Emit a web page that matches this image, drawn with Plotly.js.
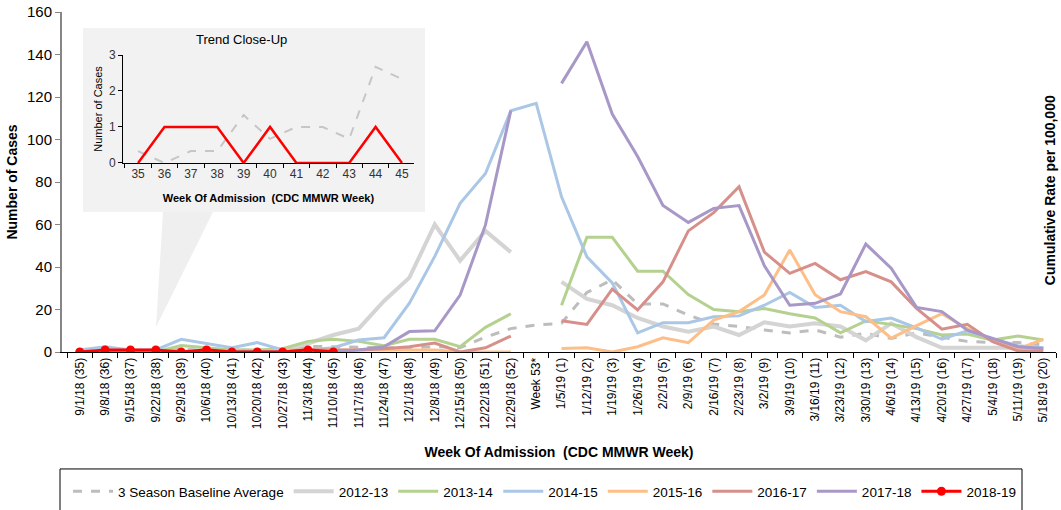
<!DOCTYPE html>
<html><head><meta charset="utf-8">
<script src="https://cdn.plot.ly/plotly-3.0.1.min.js"></script>
<style>html,body{margin:0;padding:0;background:#fff;} #chart{width:1061px;height:510px;}</style>
</head><body><div id="chart"></div>
<script>
const weeks = ["9/1/18 (35)","9/8/18 (36)","9/15/18 (37)","9/22/18 (38)","9/29/18 (39)","10/6/18 (40)","10/13/18 (41)","10/20/18 (42)","10/27/18 (43)","11/3/18 (44)","11/10/18 (45)","11/17/18 (46)","11/24/18 (47)","12/1/18 (48)","12/8/18 (49)","12/15/18 (50)","12/22/18 (51)","12/29/18 (52)","Week 53*","1/5/19 (1)","1/12/19 (2)","1/19/19 (3)","1/26/19 (4)","2/2/19 (5)","2/9/19 (6)","2/16/19 (7)","2/23/19 (8)","3/2/19 (9)","3/9/19 (10)","3/16/19 (11)","3/23/19 (12)","3/30/19 (13)","4/6/19 (14)","4/13/19 (15)","4/20/19 (16)","4/27/19 (17)","5/4/19 (18)","5/11/19 (19)","5/18/19 (20)"];

const baseline = [0.33,0,0.33,0.33,1.33,0.67,1,1,0.67,2.67,2.33,2,2,2,2.5,2,7,11,12.7,13.5,28,34,22.6,22.6,17.4,13.2,12,10.4,9,10.4,7,8.8,6.4,9,7,5,4.5,4.5,3.3];
const s2012 = [0,0,0,0,0,1,1,0,1,4,8,11,24,35,60,43,57,47,null,33,25,22,16,12,9.6,12,8,14,12,13.5,12,5.5,13.5,7,2,2,2,2,1.5];
const s2013 = [0,0,0,0,3,2,1,1,1.5,5,6,5,3,6,6,2.5,11.6,18,null,22,54,54,38,38,27,20,19,20.5,18,16,9,14.6,13,11,8,8.5,5.6,7.5,5.6];
const s2014 = [1,2.5,1,1,6,4,2,4.4,1,1,2,5.6,6.7,23,45,70,84,113.5,117,73,44.8,32.5,9,13.8,13.8,16.6,17,22,28,21,22,14.3,16,11.3,6,10,6,3,2];
const s2015 = [0,0,0,0,0,0,0,0,1,1,1,1,1,1,1,0,0,0,null,1.7,2,0,2.5,6.7,4.4,15,19,26.8,48,27,19,16.6,6.5,12.4,18,11,5.6,1.4,6];
const s2016 = [0,0,0,0,0,0,0,0,0,1,1,1,1.5,2.5,4.2,0,2,7.5,null,14.7,13,29.6,19.8,33,57,65.6,77.8,47,37,41.7,34,37.8,33,20.5,10.7,13,4.9,0.5,0.5];
const s2017 = [0,0,0,0,0,0,0,0,0,0,0,1,2.5,9.6,10,26.8,59.8,113.6,null,126.4,146,112,92,69,61,67.6,68.9,40.6,22,22.9,27.3,50.8,39.4,21,19,10.3,6.4,2.5,1.7];
const s2018 = [0,1,1,1,0,1,0,0,0,1,0];

const insetWeeks = ["35","36","37","38","39","40","41","42","43","44","45"];
const insetBaseline = [0.33,0,0.33,0.33,1.33,0.67,1,1,0.67,2.67,2.33];
const insetCurrent = [0,1,1,1,0,1,0,0,0,1,0];

const FONT = "Liberation Sans, Arial, sans-serif";
function ln(name, y, color, width, dash){
  return {type:'scatter', mode:'lines', name:name, x:weeks.slice(0,y.length), y:y,
    line:{color:color, width:width, dash:dash||'solid'}, connectgaps:false, xaxis:'x', yaxis:'y'};
}
const traces = [
  ln('3 Season Baseline Average', baseline, '#bdbdbd', 3, 'dash'),
  ln('2012-13', s2012, '#d4d4d4', 4),
  ln('2013-14', s2013, '#b5d18f', 3),
  ln('2014-15', s2014, '#abc7e6', 3),
  ln('2015-16', s2015, '#fdbf87', 3),
  ln('2016-17', s2016, '#d78f8a', 3),
  ln('2017-18', s2017, '#a898c8', 3),
  {type:'scatter', mode:'lines+markers', name:'2018-19', x:weeks.slice(0,s2018.length), y:s2018,
    line:{color:'#ff0000', width:3}, marker:{color:'#ff0000', size:9}, xaxis:'x', yaxis:'y'},
  {type:'scatter', mode:'lines', x:insetWeeks, y:insetBaseline, showlegend:false,
    line:{color:'#c6c6c6', width:2, dash:'dash'}, xaxis:'x2', yaxis:'y2'},
  {type:'scatter', mode:'lines', x:insetWeeks, y:insetCurrent, showlegend:false,
    line:{color:'#ff0000', width:2.5}, xaxis:'x2', yaxis:'y2'}
];

const layout = {
  width:1061, height:510,
  margin:{l:62, r:5, t:12, b:158, autoexpand:false},
  paper_bgcolor:'#ffffff', plot_bgcolor:'rgba(0,0,0,0)',
  font:{family:FONT, color:'#000'},
  showlegend:true,
  legend:{orientation:'h', xref:'container', yref:'container', x:0.0641, xanchor:'left', y:0.0667, yanchor:'top',
    itemwidth:40, borderwidth:0, font:{size:13.5, family:FONT}, bgcolor:'rgba(0,0,0,0)'},
  xaxis:{type:'category', categoryorder:'array', categoryarray:weeks, range:[-0.7,38.5], automargin:false,
    tickson:'boundaries', ticks:'outside', ticklen:5, tickcolor:'#000', showline:true, linecolor:'#000',
    tickangle:-90, tickfont:{size:12, family:FONT}, showgrid:false, zeroline:false, fixedrange:true,
    title:{text:'<b>Week Of Admission \u00a0(CDC MMWR Week)</b>', font:{size:14, family:FONT}, standoff:19}},
  yaxis:{range:[0,160], dtick:20, ticks:'outside', ticklen:5, tickcolor:'#868686', showline:true, linecolor:'#868686',
    linewidth:2, tickfont:{size:15, family:FONT}, showgrid:false, zeroline:false, automargin:false,
    title:{text:'<b>Number of Cases</b>', font:{size:14, family:FONT}, standoff:6}},
  xaxis2:{type:'category', anchor:'y2', domain:[0.0614,0.354], range:[-0.57,10.45], automargin:false,
    tickson:'boundaries', ticks:'outside', ticklen:4, tickcolor:'#000', showline:true, linecolor:'#000',
    tickfont:{size:12, family:FONT, color:'#333'}, showgrid:false, zeroline:false,
    title:{text:'<b>Week Of Admission \u00a0(CDC MMWR Week)</b>', font:{size:11, family:FONT}, standoff:13}},
  yaxis2:{anchor:'x2', domain:[0.556,0.8735], range:[0,3], dtick:1, ticks:'outside', ticklen:4, automargin:false,
    tickcolor:'#000', showline:true, linecolor:'#000', tickfont:{size:12, family:FONT, color:'#333'},
    showgrid:false, zeroline:false,
    title:{text:'Number of Cases', font:{size:11, family:FONT}, standoff:4}},
  shapes:[
    {type:'rect', xref:'paper', yref:'paper', x0:0.0211, x1:0.3652, y0:0.4118, y1:0.953,
      fillcolor:'#f2f2f2', line:{width:0}, layer:'below'},
    {type:'path', xref:'paper', yref:'paper', path:'M 0.1016,0.4118 L 0.1519,0.4118 L 0.0946,0.0735 Z',
      fillcolor:'#efefef', line:{width:0}, layer:'below'},
    {type:'rect', xref:'paper', yref:'paper', x0:-0.002, x1:0.9658, y0:-0.344, y1:-0.62,
      fillcolor:'rgba(0,0,0,0)', line:{color:'#000', width:1}, layer:'below'}
  ],
  annotations:[
    {text:'Trend Close-Up', xref:'paper', yref:'paper', x:0.181, y:0.918, xanchor:'center', yanchor:'middle',
      showarrow:false, font:{size:13, family:FONT}},
    {text:'<b>Cumulative Rate per 100,000</b>', xref:'paper', yref:'paper', x:1.004, y:0.476,
      xanchor:'right', yanchor:'middle', showarrow:false, textangle:-90, font:{size:14, family:FONT}}
  ]
};
Plotly.newPlot('chart', traces, layout, {displayModeBar:false, staticPlot:true});
</script></body></html>
